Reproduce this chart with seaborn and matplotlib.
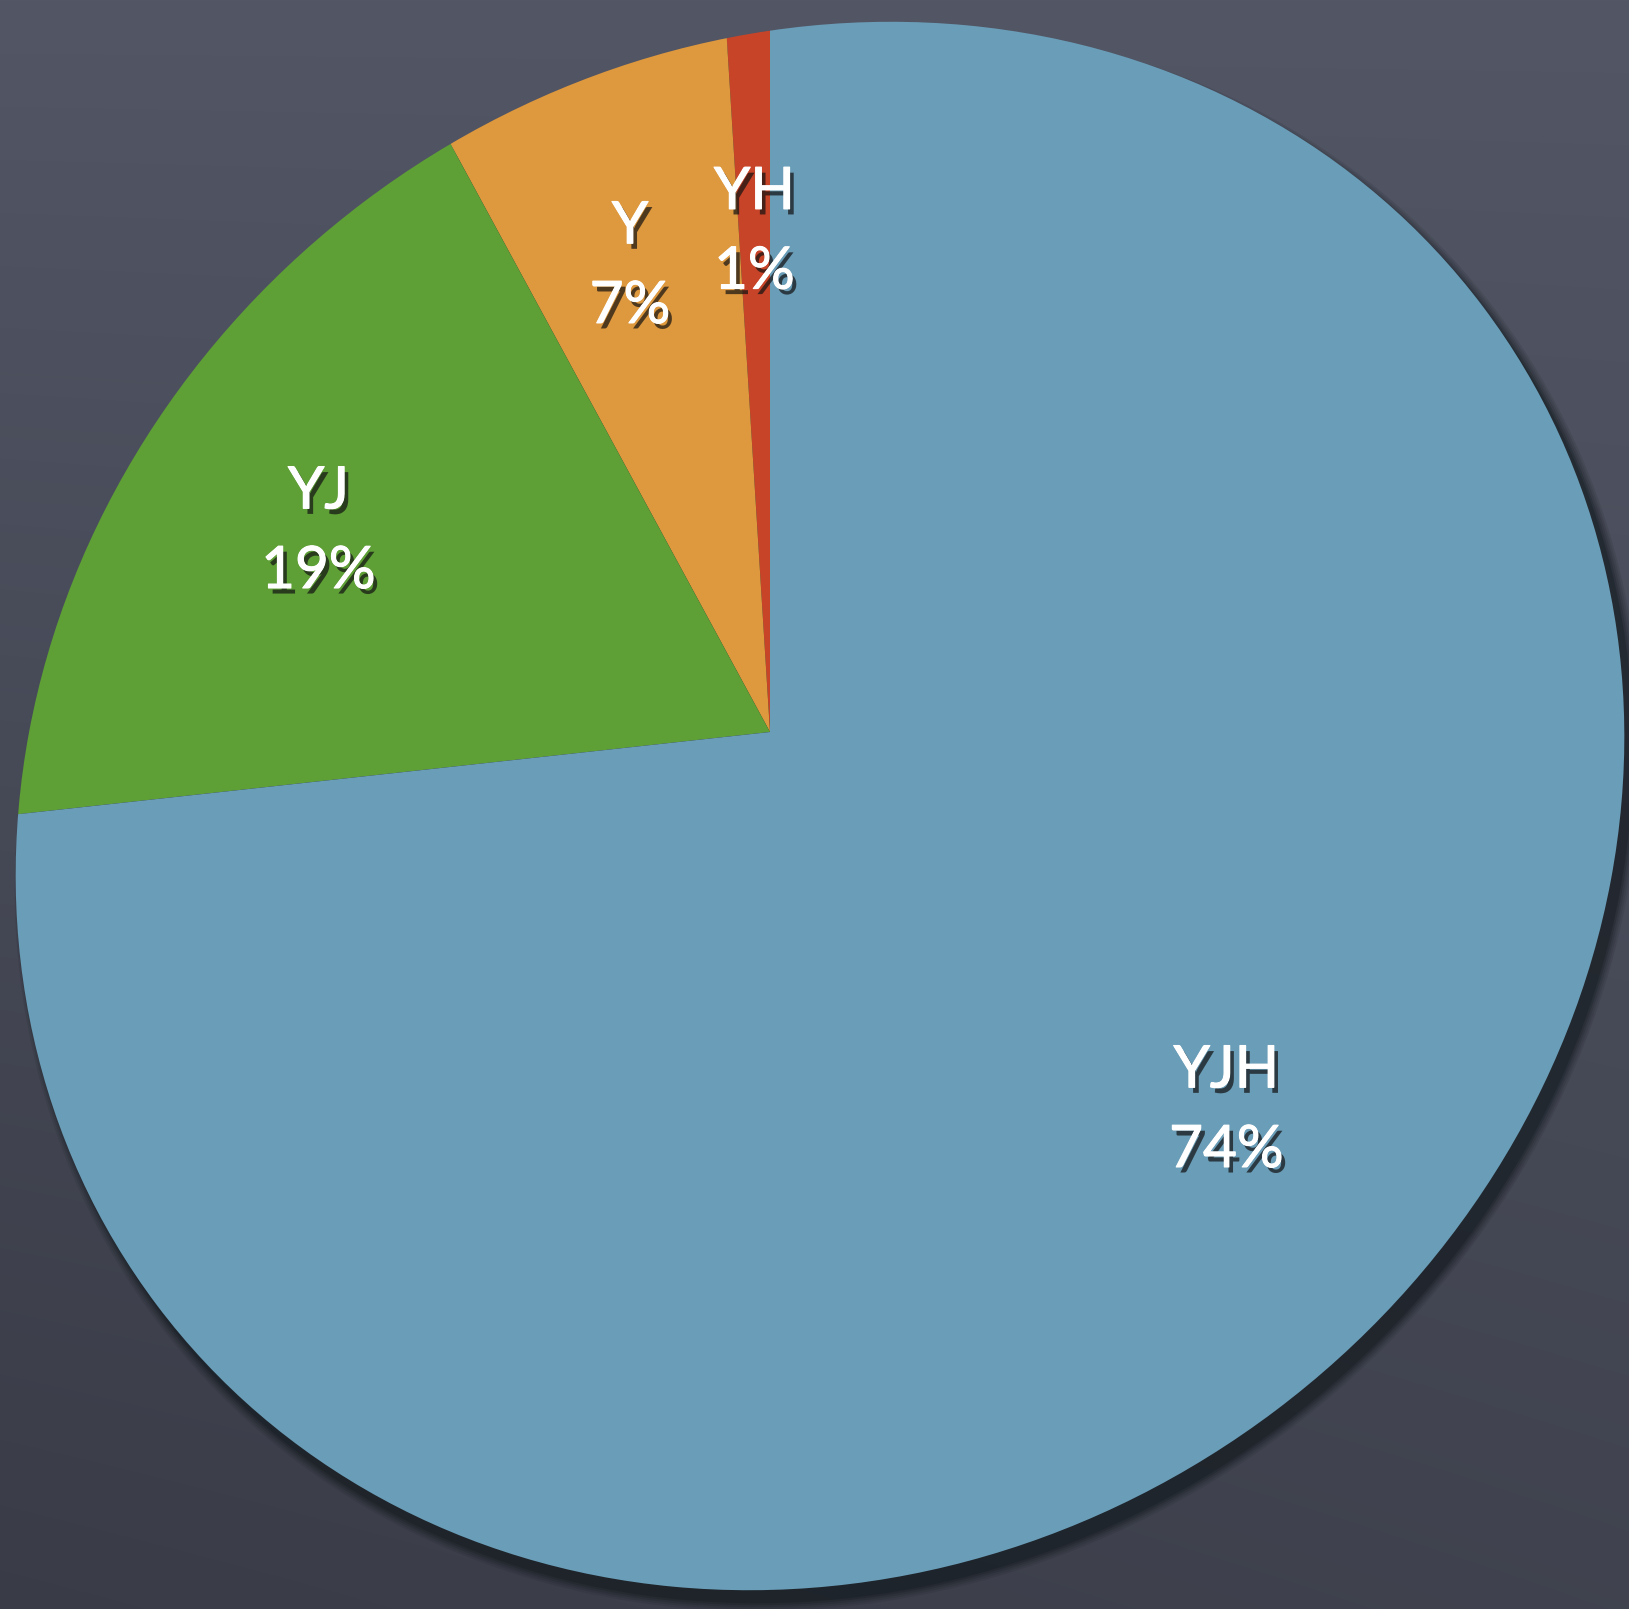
import numpy as np
import matplotlib
matplotlib.use("Agg")
import matplotlib.pyplot as plt
import matplotlib.patheffects as pe
from matplotlib.patches import Ellipse
from matplotlib.path import Path
import seaborn as sns

# Share of each group
groups = ["YH", "Y", "YJ", "YJH"]
shares = [1, 7, 19, 74]
colors = ["#c84428", "#de983e", "#5e9f36", "#6a9db7"]

sns.set_theme(style="white")
plt.rcParams["font.family"] = ["Lato", "DejaVu Sans"]

W, H = 1629, 1609
fig = plt.figure(figsize=(W / 100, H / 100), dpi=100)
ax = fig.add_axes([0, 0, 1, 1])

# chalkboard backdrop: slate grey, darkening towards the bottom left
yy, xx = np.mgrid[0:H, 0:W]
xn, yn = xx / W, yy / H
shade = 1.0 - 0.22 * yn - 0.08 * (1 - xn) * yn
base = np.array([82, 86, 101]) / 255.0
bg = np.clip(base[None, None, :] * shade[..., None], 0, 1)
ax.imshow(bg, extent=(0, W, 0, H), origin="upper", zorder=0)

# disc outline (slightly tilted plate) and its soft drop shadow
disc_c = (820, H - 806)
disc_w, disc_h, disc_a = 1660, 1514, 37
for k, a in enumerate([0.10, 0.12, 0.15, 0.2, 0.25]):
    grow = 18 - 4 * k
    ax.add_patch(Ellipse((disc_c[0] + 8, disc_c[1] - 12), disc_w + grow, disc_h + grow,
                         angle=disc_a, facecolor="#0d1418", edgecolor="none",
                         alpha=a, zorder=1))

# the disc outline as a path in data coordinates, used to clip the wedges
disc = Ellipse(disc_c, disc_w, disc_h, angle=disc_a)
disc_path = Path(disc.get_patch_transform().transform(disc.get_path().vertices),
                 disc.get_path().codes)

# wedges radiate from the apex of the plate and are clipped to the disc
apex = (770, H - 732)
R = 1200
wedges, _ = ax.pie(shares, colors=colors, startangle=90, counterclock=True,
                   radius=R, center=apex,
                   wedgeprops=dict(linewidth=0, edgecolor="none"))
for w in wedges:
    w.set_zorder(2)
    w.set_clip_on(True)
    w.set_clip_path(disc_path, ax.transData)

label_dist = [500, 486, 494, 593]
label_turn = [0.0, 0.7, 3.7, 2.2]
text_fx = [pe.withSimplePatchShadow(offset=(3, -4), shadow_rgbFace="#111111", alpha=0.7),
           pe.Stroke(linewidth=0.8, foreground="white"), pe.Normal()]
for w, g, s, d, t in zip(wedges, groups, shares, label_dist, label_turn):
    mid = np.deg2rad((w.theta1 + w.theta2) / 2 + t)
    x = apex[0] + d * np.cos(mid)
    y = apex[1] + d * np.sin(mid)
    ax.text(x, y, f"{g}\n{s}%", ha="center", va="center", color="white",
            fontsize=42, linespacing=1.62, zorder=5, path_effects=text_fx)

ax.set_xlim(0, W)
ax.set_ylim(0, H)
ax.set_aspect("equal")
ax.axis("off")

fig.savefig("out.png", dpi=100)
